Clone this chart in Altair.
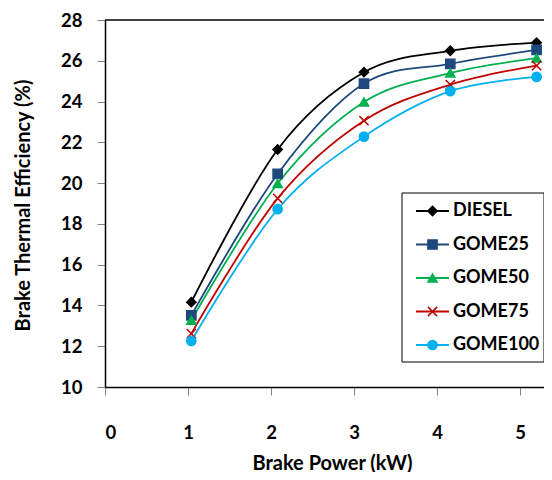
import altair as alt
import pandas as pd

# ---------------- data ----------------
names = ["DIESEL", "GOME25", "GOME50", "GOME75", "GOME100"]
power = [1.04, 2.08, 3.12, 4.16, 5.2]
diesel = [14.16, 21.65, 25.44, 26.49, 26.89]
gome25 = [13.51, 20.45, 24.88, 25.85, 26.53]
gome50 = [13.27, 19.98, 23.98, 25.40, 26.13]
gome75 = [12.62, 19.25, 23.06, 24.83, 25.76]
gome100 = [12.26, 18.72, 22.28, 24.51, 25.21]
x_ticks = [0, 1, 2, 3, 4, 5]
y_ticks = [10, 12, 14, 16, 18, 20, 22, 24, 26, 28]

colors = ["#000000", "#1F497D", "#00B050", "#C00000", "#00B0F0"]
fills = ["#000000", "#1F497D", "#00B050", "transparent", "#00B0F0"]
shapes = ["diamond", "square", "triangle-up", "M-1,-1L1,1M1,-1L-1,1", "circle"]

rows = []
for n, vals in zip(names, [diesel, gome25, gome50, gome75, gome100]):
    for p, v in zip(power, vals):
        rows.append({"series": n, "power": p, "bte": v})
df = pd.DataFrame(rows)

W, H = 439, 367
X_MAX = 5.289
FONT = "Lato"

x_scale = alt.Scale(domain=[0, X_MAX], nice=False, zero=False)
y_scale = alt.Scale(domain=[10, 28], nice=False, zero=False)
stroke_scale = alt.Scale(domain=names, range=colors)
fill_scale = alt.Scale(domain=names, range=fills)
shape_scale = alt.Scale(domain=names, range=shapes)

x_axis = alt.Axis(
    values=x_ticks, title="Brake Power (kW)", grid=False,
    tickSize=8, tickColor="#868686", domainColor="#000000", domainWidth=1.5,
    labelFont=FONT, labelFontSize=18.5, labelFontWeight="bold", labelColor="#000000",
    labelPadding=28,
    titleFont=FONT, titleFontSize=20, titleFontWeight="bold", titleColor="#000000",
    titleX=227, titleY=76, titleBaseline="middle", titleAlign="center",
)
y_axis = alt.Axis(
    values=y_ticks, title="Brake Thermal Efficiency (%)", grid=False,
    tickSize=8, tickColor="#868686", domainColor="#000000", domainWidth=1.5,
    labelFont=FONT, labelFontSize=18.5, labelFontWeight="bold", labelColor="#000000",
    labelPadding=15,
    titleFont=FONT, titleFontSize=20, titleFontWeight="bold", titleColor="#000000",
    titleX=-82, titleY=185, titleAngle=-90, titleBaseline="middle", titleAlign="center",
)

base = alt.Chart(df)
X = alt.X("power:Q", scale=x_scale, axis=x_axis)
Y = alt.Y("bte:Q", scale=y_scale, axis=y_axis)
S = alt.Stroke("series:N", scale=stroke_scale, legend=None)
F = alt.Fill("series:N", scale=fill_scale, legend=None)
SH = alt.Shape("series:N", scale=shape_scale, legend=None)

lines = base.mark_line(interpolate="cardinal", tension=0, strokeWidth=1.8).encode(
    x=X, y=Y, stroke=S
)
points = base.mark_point(size=85, strokeWidth=1.5, opacity=1).encode(
    x=X, y=Y, stroke=S, fill=F, shape=SH
)
top = alt.Chart(pd.DataFrame({"v": [0]})).mark_rule(color="#000000", strokeWidth=1.5).encode(
    x=alt.value(0), x2=alt.value(W), y=alt.value(0)
)
main = alt.layer(lines, points, top)

# ---------------- legend ----------------
leg_df = pd.DataFrame({"series": names})
LY = alt.Y("series:N", scale=alt.Scale(type="point", domain=names, range=[191, 325], padding=0), axis=None)
box = alt.Chart(pd.DataFrame({"v": [0]})).mark_rect(fill="white", stroke="#000000", strokeWidth=1).encode(
    x=alt.value(297), x2=alt.value(439), y=alt.value(173), y2=alt.value(342)
)
lrules = alt.Chart(leg_df).mark_rule(strokeWidth=1.8).encode(
    x=alt.value(311), x2=alt.value(344), y=LY, stroke=S
)
lpoints = alt.Chart(leg_df).mark_point(size=85, strokeWidth=1.5, opacity=1).encode(
    x=alt.value(327.5), y=LY, stroke=S, fill=F, shape=SH
)
ltext = alt.Chart(leg_df).mark_text(
    align="left", baseline="middle", font=FONT, fontSize=18, fontWeight="bold", color="#000000"
).encode(x=alt.value(348), y=LY, text="series:N")
legend = alt.layer(box, lrules, lpoints, ltext)

chart = alt.layer(main, legend).resolve_scale(y="independent").properties(
    width=W, height=H,
    autosize=alt.AutoSizeParams(type="none"),
    padding={"left": 97, "top": 12, "right": 0, "bottom": 85},
).configure_view(stroke=None)

chart.save("out.html", embed_options={"renderer": "svg", "actions": False})
